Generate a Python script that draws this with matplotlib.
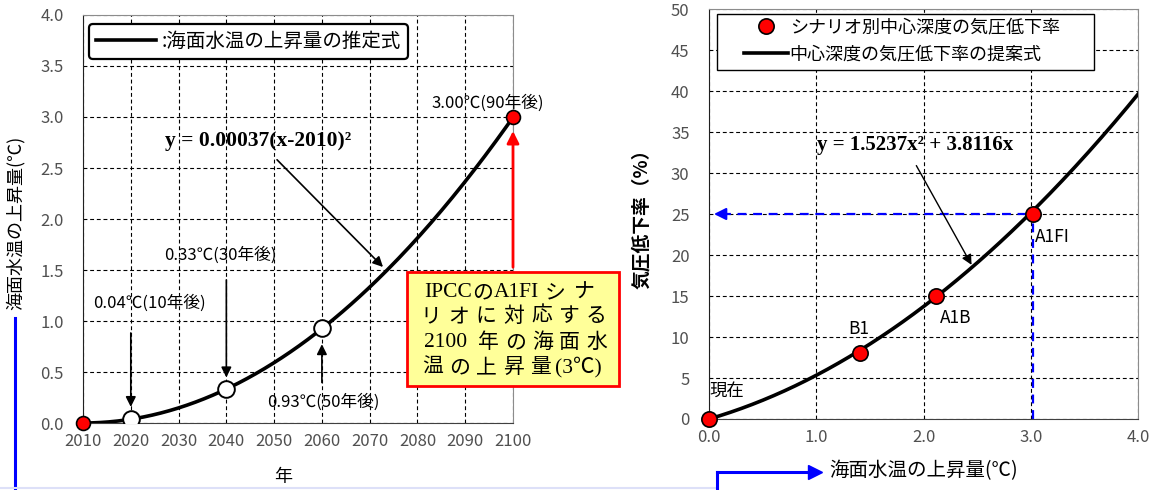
import numpy as np
import matplotlib
matplotlib.use("Agg")
from matplotlib import pyplot as plt
from matplotlib.lines import Line2D
from matplotlib.patches import Rectangle

plt.rcParams['font.family'] = ['Noto Sans CJK JP', 'DejaVu Sans']
SERIF = ['Liberation Serif', 'Noto Sans CJK JP']

# left: projected sea surface temperature rise
years = [2010, 2020, 2040, 2060, 2100]
rise = [0.0, 0.04, 0.33, 0.93, 3.00]
fit_a = 0.00037
rise_labels = ['0.04℃(10年後)', '0.33℃(30年後)', '0.93℃(50年後)', '3.00℃(90年後)']

# right: central pressure drop rate by scenario
sst_rise = [0.0, 1.41, 2.12, 3.02]
drop_rate = [0.0, 8.0, 15.0, 25.0]
scenarios = ['現在', 'B1', 'A1B', 'A1FI']
coef2, coef1 = 1.5237, 3.8116

W, H = 1158, 490
fig = plt.figure(figsize=(W / 100, H / 100), dpi=100)
ax1 = fig.add_axes([0.0717, 0.1367, 0.3713, 0.8327])
ax2 = fig.add_axes([0.6123, 0.1449, 0.3705, 0.8367])


def fpos(px, py):
    # pixel position (from top-left) -> figure fraction
    return px / W, 1 - py / H


for ax in (ax1, ax2):
    ax.spines['left'].set_color('#202020')
    ax.spines['bottom'].set_color('#404040')
    ax.spines['top'].set_color('#8c8c8c')
    ax.spines['right'].set_color('#8c8c8c')
    ax.tick_params(length=0, labelsize=12, labelcolor='#505050')
    ax.tick_params(axis='y', pad=14)
    ax.tick_params(axis='x', pad=7)
    ax.grid(True, color='black', linestyle=(0, (3.5, 2.5)), linewidth=0.8)
    ax.set_axisbelow(True)

# ---- left chart ----
xs = np.linspace(2010, 2100, 200)
ax1.plot(xs, fit_a * (xs - 2010) ** 2, color='black', lw=2.6,
         label=':海面水温の上昇量の推定式', zorder=3)
ax1.plot([years[0], years[-1]], [rise[0], rise[-1]], 'o', ms=10, mfc='red',
         mec='black', mew=1.2, zorder=5, clip_on=False)
ax1.plot(years[1:4], rise[1:4], 'o', ms=12, mfc='white', mec='black',
         mew=1.4, zorder=5)
ax1.set_xlim(2010, 2100)
ax1.set_ylim(0, 4.0)
ax1.set_xticks(range(2010, 2101, 10))
ax1.set_yticks(np.arange(0, 4.01, 0.5))
ax1.set_yticklabels([f'{v:.1f}' for v in np.arange(0, 4.01, 0.5)])
ax1.set_xlabel('年', fontsize=13)
ax1.xaxis.set_label_coords(0.465, -0.11)
ax1.set_ylabel('海面水温の上昇量(℃)', fontsize=13)
ax1.yaxis.set_label_coords(-0.135, 0.49)

arrow_k = dict(arrowstyle='-|>', color='black', lw=1.2, mutation_scale=15)
ax1.annotate('', xy=(2020, 0.13), xytext=(2020, 0.91), arrowprops=arrow_k)
ax1.text(2024, 1.18, rise_labels[0], ha='center', va='center', fontsize=12)
ax1.annotate('', xy=(2040, 0.42), xytext=(2040, 1.43), arrowprops=arrow_k)
ax1.text(2038.7, 1.65, rise_labels[1], ha='center', va='center', fontsize=12)
ax1.annotate('', xy=(2060, 0.8), xytext=(2060, 0.37), arrowprops=arrow_k)
ax1.text(2060.2, 0.2, rise_labels[2], ha='center', va='center', fontsize=12)
ax1.text(2094.8, 3.14, rise_labels[3], ha='center', va='center', fontsize=12)

ax1.text(2046.6, 2.76, 'y = 0.00037(x-2010)²', ha='center', va='center',
         fontsize=15.5, fontweight='bold', family=SERIF)
ax1.annotate('', xy=(2073.2, 1.51), xytext=(2050.2, 2.6), arrowprops=arrow_k)

ax1.annotate('', xy=(2100, 2.89), xytext=(2100, 1.5),
             arrowprops=dict(arrowstyle='-|>', color='red', lw=2,
                             mutation_scale=18), annotation_clip=False)

# yellow note box, laid out glyph by glyph
fig.add_artist(Rectangle(fpos(407, 386), 212 / W, 114 / H, fc='#ffff99',
                         ec='red', lw=2, zorder=6))
cjk_kw = dict(fontsize=15, va='center', ha='center', zorder=7)
lat_kw = dict(fontsize=15.5, family=SERIF, va='center', ha='left', zorder=7)
fig.text(*fpos(424, 292), 'IPCC', **lat_kw)
fig.text(*fpos(483, 292), 'の', **cjk_kw)
fig.text(*fpos(494, 292), 'A1FI', **lat_kw)
fig.text(*fpos(555, 292), 'シ', **cjk_kw)
fig.text(*fpos(584, 292), 'ナ', **cjk_kw)
for i, ch in enumerate('リオに対応する'):
    fig.text(*fpos(431 + 27.6 * i, 316), ch, **cjk_kw)
fig.text(*fpos(424, 342), '2100', **lat_kw)
for i, ch in enumerate('年の海面水'):
    fig.text(*fpos(488 + 27.2 * i, 342), ch, **cjk_kw)
for i, ch in enumerate('温の上昇量'):
    fig.text(*fpos(433 + 26.8 * i, 367), ch, **cjk_kw)
fig.text(*fpos(555, 367), '(3℃)', **lat_kw)

leg1 = ax1.legend(loc='upper left', bbox_to_anchor=(0.014, 0.978),
                  handlelength=3.1, handletextpad=0.3, fontsize=14,
                  fancybox=True, framealpha=1, borderpad=0.35,
                  borderaxespad=0)
leg1.get_frame().set_edgecolor('black')
leg1.get_frame().set_linewidth(1.6)

# ---- right chart ----
xr = np.linspace(0, 4, 200)
ax2.plot(xr, coef2 * xr ** 2 + coef1 * xr, color='black', lw=2.6,
         label='中心深度の気圧低下率の提案式', zorder=3)
ax2.plot(sst_rise, drop_rate, 'o', ms=11, mfc='red', mec='black', mew=1.2,
         label='シナリオ別中心深度の気圧低下率', zorder=5, clip_on=False)
ax2.set_xlim(0, 4)
ax2.set_ylim(0, 50)
ax2.set_xticks(np.arange(0, 4.01, 1.0))
ax2.set_xticklabels([f'{v:.1f}' for v in np.arange(0, 4.01, 1.0)])
ax2.set_yticks(range(0, 51, 5))
ax2.set_xlabel('海面水温の上昇量(℃)', fontsize=14)
ax2.xaxis.set_label_coords(0.5, -0.1)
ax2.set_ylabel('気圧低下率（%）', fontsize=13.5, fontweight='bold')
ax2.yaxis.set_label_coords(-0.135, 0.5)

label_pos = [(0.17, 3.4), (1.40, 11.0), (2.3, 12.3), (3.2, 22.2)]
for name, (lx, ly) in zip(scenarios, label_pos):
    ax2.text(lx, ly, name, ha='center', va='center', fontsize=12.5)

blue = dict(color='#0000ff', lw=1.6, linestyle=(0, (4, 3)))
ax2.plot([sst_rise[-1], sst_rise[-1]], [0, drop_rate[-1]], **blue, zorder=2)
ax2.plot([0.12, sst_rise[-1]], [drop_rate[-1], drop_rate[-1]], **blue, zorder=2)
ax2.annotate('', xy=(0.02, drop_rate[-1]), xytext=(0.2, drop_rate[-1]),
             arrowprops=dict(arrowstyle='-|>', color='#0000ff', lw=1.5,
                             mutation_scale=18))

ax2.text(1.92, 33.4, 'y = 1.5237x² + 3.8116x', ha='center', va='center',
         fontsize=15, fontweight='bold', family=SERIF)
ax2.annotate('', xy=(2.46, 18.5), xytext=(1.92, 31.2),
             arrowprops=dict(arrowstyle='-|>', color='black', lw=1.0,
                             mutation_scale=15))

# legend box drawn separately so it can be wider than its entries
ax2.add_patch(Rectangle((0.019, 0.851), 0.878, 0.137, transform=ax2.transAxes,
                        fc='white', ec='black', lw=1.0, zorder=4))
h, l = ax2.get_legend_handles_labels()
leg2 = ax2.legend(h[::-1], l[::-1], loc='upper left', numpoints=1,
                  bbox_to_anchor=(0.07, 0.99), frameon=False, fontsize=13,
                  handlelength=2.4, handletextpad=0.1, borderpad=0.3,
                  borderaxespad=0, labelspacing=0.5)
leg2.set_zorder(5)

# blue guide lines along the figure bottom
fig.add_artist(Line2D([0.013, 0.013], [0.0, 0.351], color='#0000ff', lw=2.2))
fig.add_artist(Line2D([0.0, 717 / W], [0.004, 0.004], color='#dde0f8', lw=1.5))
fig.add_artist(Line2D([717 / W, 717 / W], [0.0, 1 - 472 / H],
                      color='#0000ff', lw=2.2))
fig.add_artist(Line2D([717 / W, 810 / W], [1 - 472 / H, 1 - 472 / H],
                      color='#0000ff', lw=2.2))
fig.add_artist(Line2D([815 / W], [1 - 472 / H], marker='>', ms=10,
                      color='#0000ff'))

fig.savefig('out.png', dpi=100)
